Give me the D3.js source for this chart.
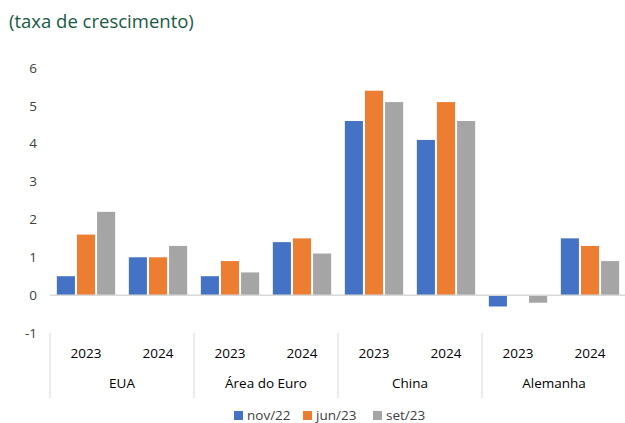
<!DOCTYPE html>
<html>
<head>
<meta charset="utf-8">
<script src="https://cdn.jsdelivr.net/npm/d3@7"></script>
<style>
  body { margin: 0; background: #fff; }
  text { font-family: "Open Sans", "Noto Sans", sans-serif; }
</style>
</head>
<body>
<div id="chart"></div>
<script>
// data
var countries = ["EUA", "Área do Euro", "China", "Alemanha"];
var years = ["2023", "2024"];
var series = ["nov/22", "jun/23", "set/23"];
var nov22 = [0.5, 1.0, 0.5, 1.4, 4.6, 4.1, -0.3, 1.5];
var jun23 = [1.6, 1.0, 0.9, 1.5, 5.4, 5.1, 0.0, 1.3];
var set23 = [2.2, 1.3, 0.6, 1.1, 5.1, 4.6, -0.2, 0.9];
var yTicks = [-1, 0, 1, 2, 3, 4, 5, 6];
var colors = ["#4472C4", "#ED7D31", "#A5A5A5"];

var width = 625, height = 423;
var margin = {top: 68, right: 0, bottom: 90, left: 50};

var svg = d3.select("#chart").append("svg")
    .attr("width", width)
    .attr("height", height);

svg.append("text")
    .attr("x", 9)
    .attr("y", 28)
    .attr("fill", "#175A43")
    .style("font-size", "18.5px")
    .text("(taxa de crescimento)");

// one category per country/year pair
var cats = [];
countries.forEach(function(c) {
  years.forEach(function(y) { cats.push(c + "|" + y); });
});
var values = [nov22, jun23, set23];

var x = d3.scaleBand()
    .domain(cats)
    .range([margin.left, width - margin.right + 1])
    .paddingInner(0.19)
    .paddingOuter(0.095);

var x0 = d3.scaleBand()
    .domain(cats)
    .range([margin.left, width - margin.right + 1]);

var xs = d3.scaleBand()
    .domain(series)
    .range([0, x.bandwidth()])
    .paddingInner(0.1);

var y = d3.scaleLinear()
    .domain([-1, 6])
    .range([333, 68]);

// y tick labels (no axis line in the reference)
svg.append("g").selectAll("text")
    .data(yTicks)
    .enter().append("text")
    .attr("x", 37)
    .attr("y", function(d) { return y(d); })
    .attr("dy", "0.35em")
    .attr("text-anchor", "end")
    .attr("fill", "#404040")
    .style("font-size", "13.5px")
    .text(function(d) { return d; });

// bars
var g = svg.append("g");
series.forEach(function(s, si) {
  g.selectAll(".bar" + si)
    .data(values[si])
    .enter().append("rect")
    .attr("class", "bar" + si)
    .attr("x", function(d, i) { return x(cats[i]) + xs(s); })
    .attr("y", function(d) { return Math.min(y(d), y(0)); })
    .attr("width", xs.bandwidth())
    .attr("height", function(d) { return Math.abs(y(d) - y(0)); })
    .attr("fill", colors[si]);
});

// zero line
svg.append("line")
    .attr("x1", margin.left)
    .attr("x2", width)
    .attr("y1", y(0))
    .attr("y2", y(0))
    .attr("stroke", "#D9D9D9")
    .attr("stroke-width", 1.5);

// year labels
svg.append("g").selectAll("text")
    .data(cats)
    .enter().append("text")
    .attr("x", function(d) { return x0(d) + x0.bandwidth() / 2; })
    .attr("y", 358)
    .attr("text-anchor", "middle")
    .attr("fill", "#000")
    .style("font-size", "13.5px")
    .text(function(d) { return d.split("|")[1]; });

// country labels
var groupW = x0.bandwidth() * years.length;
svg.append("g").selectAll("text")
    .data(countries)
    .enter().append("text")
    .attr("x", function(d, i) { return margin.left + groupW * i + groupW / 2; })
    .attr("y", 388)
    .attr("text-anchor", "middle")
    .attr("fill", "#000")
    .style("font-size", "13.5px")
    .text(function(d) { return d; });

// group separators
svg.append("g").selectAll("line")
    .data(d3.range(countries.length + 1))
    .enter().append("line")
    .attr("x1", function(i) { return margin.left + groupW * i; })
    .attr("x2", function(i) { return margin.left + groupW * i; })
    .attr("y1", 333)
    .attr("y2", 398)
    .attr("stroke", "#D9D9D9")
    .attr("stroke-width", 1);

// legend
var legX = [234, 303, 373];
var leg = svg.append("g").selectAll("g")
    .data(series)
    .enter().append("g")
    .attr("transform", function(d, i) { return "translate(" + legX[i] + ",411)"; });
leg.append("rect")
    .attr("width", 9)
    .attr("height", 9)
    .attr("fill", function(d, i) { return colors[i]; });
leg.append("text")
    .attr("x", 13)
    .attr("y", 9)
    .attr("fill", "#404040")
    .style("font-size", "13.5px")
    .text(function(d) { return d; });
</script>
</body>
</html>
